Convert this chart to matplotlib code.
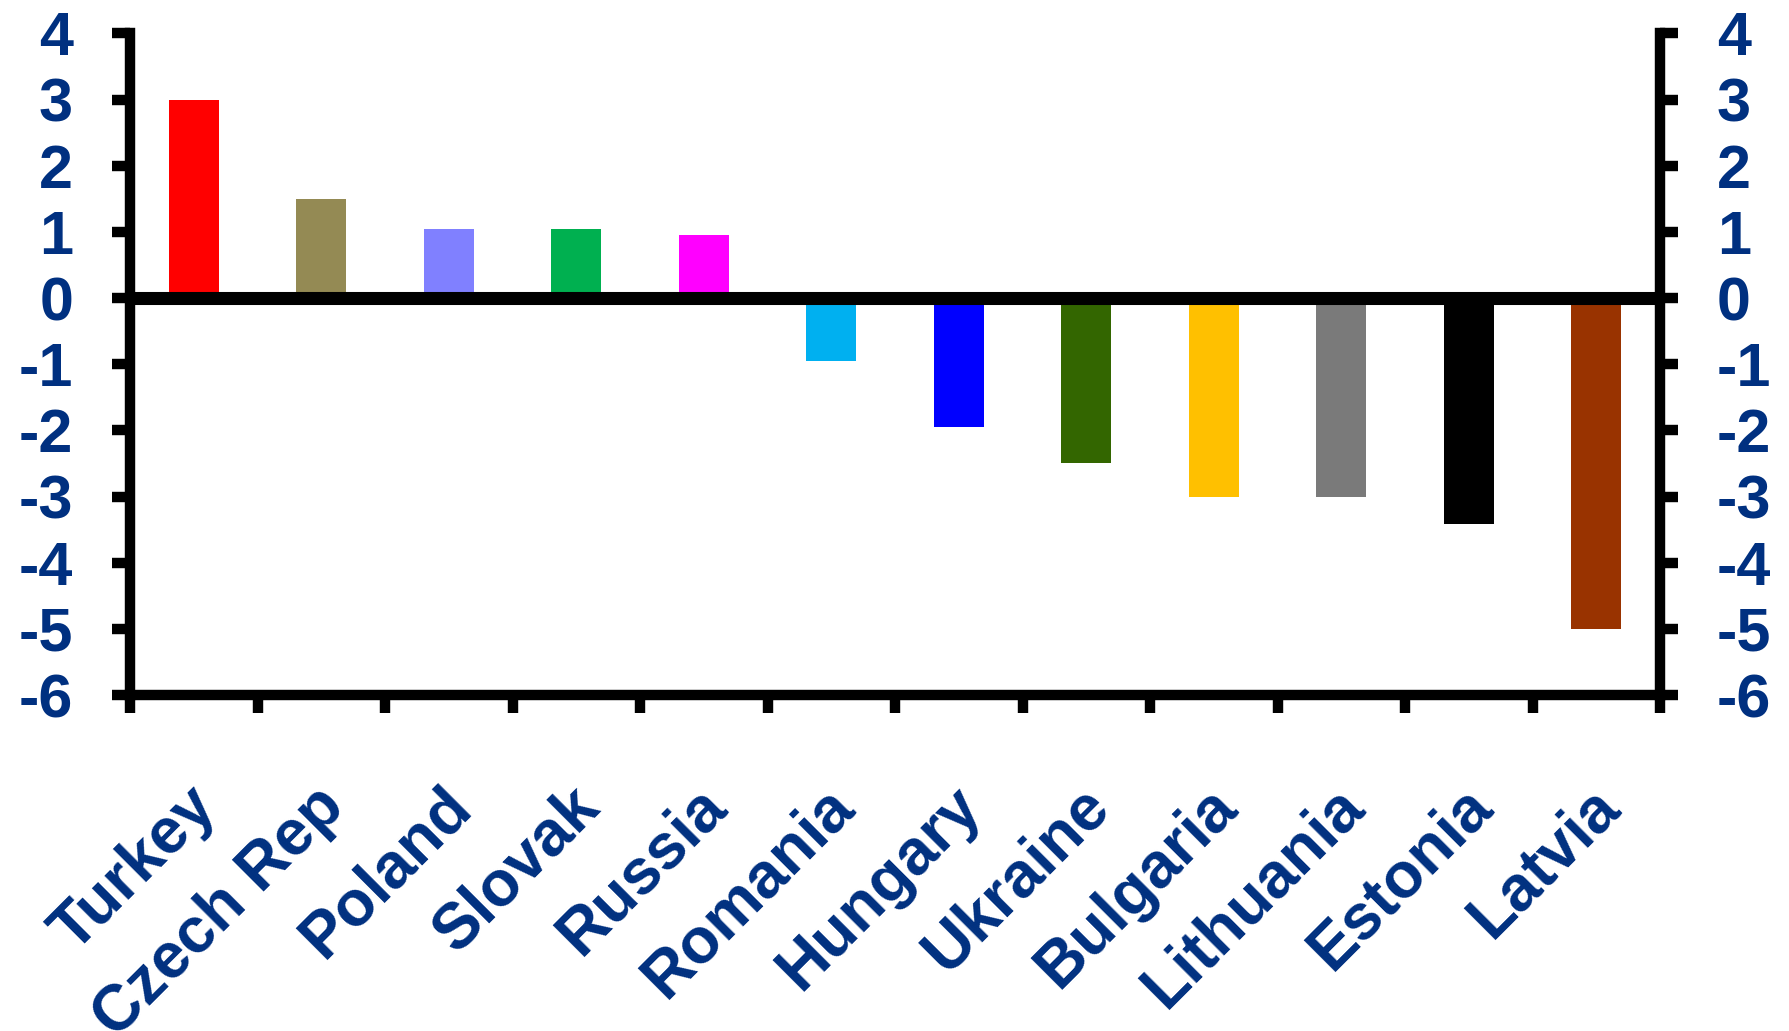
import matplotlib
matplotlib.use("Agg")
import matplotlib.pyplot as plt
import matplotlib.transforms as mtransforms
import numpy as np

countries = ["Turkey", "Czech Rep", "Poland", "Slovak", "Russia", "Romania",
             "Hungary", "Ukraine", "Bulgaria", "Lithuania", "Estonia", "Latvia"]
values = [3.0, 1.5, 1.05, 1.05, 0.95, -0.95, -1.95, -2.5, -3.0, -3.0, -3.42, -5.0]
colors = ["#FF0000", "#948A54", "#8080FF", "#00B050", "#FF00FF", "#00B0F0",
          "#0000FF", "#336600", "#FFC000", "#7A7A7A", "#000000", "#993300"]
yticks = list(range(-6, 5))

navy = "#003080"
plt.rcParams["font.family"] = ["Liberation Sans", "DejaVu Sans"]
plt.rcParams["font.weight"] = "bold"

fig = plt.figure(figsize=(17.89, 10.31), dpi=100)
ax = fig.add_axes([130 / 1789, 336 / 1031, 1530 / 1789, 661.5 / 1031])

x = np.arange(len(countries))
ax.bar(x, values, width=0.39, color=colors, zorder=2)
ax.axhline(0, color="black", lw=9.4, zorder=3)

ax.set_xlim(-0.5, len(countries) - 0.5)
ax.set_ylim(-6, 4)

ax.spines["top"].set_visible(False)
for s in ["left", "right", "bottom"]:
    ax.spines[s].set_linewidth(7.5)

# y axis: same scale on both sides
ax.set_yticks(yticks)
ax.set_yticklabels([str(v) for v in yticks])
ax.tick_params(axis="y", left=True, right=True, labelleft=True, labelright=True,
               length=13, width=7.5, direction="out", pad=28,
               labelsize=44, labelcolor=navy)

# x axis: labels at the bars, tick marks between categories
ax.set_xticks(x)
ax.set_xticklabels(countries, rotation=45, ha="right", rotation_mode="anchor")
ax.set_xticks(np.arange(-0.5, len(countries), 1), minor=True)
ax.tick_params(axis="x", which="major", length=0, pad=58, labelsize=46, labelcolor=navy)
ax.tick_params(axis="x", which="minor", length=13, width=7.5, direction="out")

shift = mtransforms.ScaledTranslation(-8 / 100, 0, fig.dpi_scale_trans)
for lab in ax.get_xticklabels():
    lab.set_transform(lab.get_transform() + shift)

fig.savefig("out.png", dpi=100)
